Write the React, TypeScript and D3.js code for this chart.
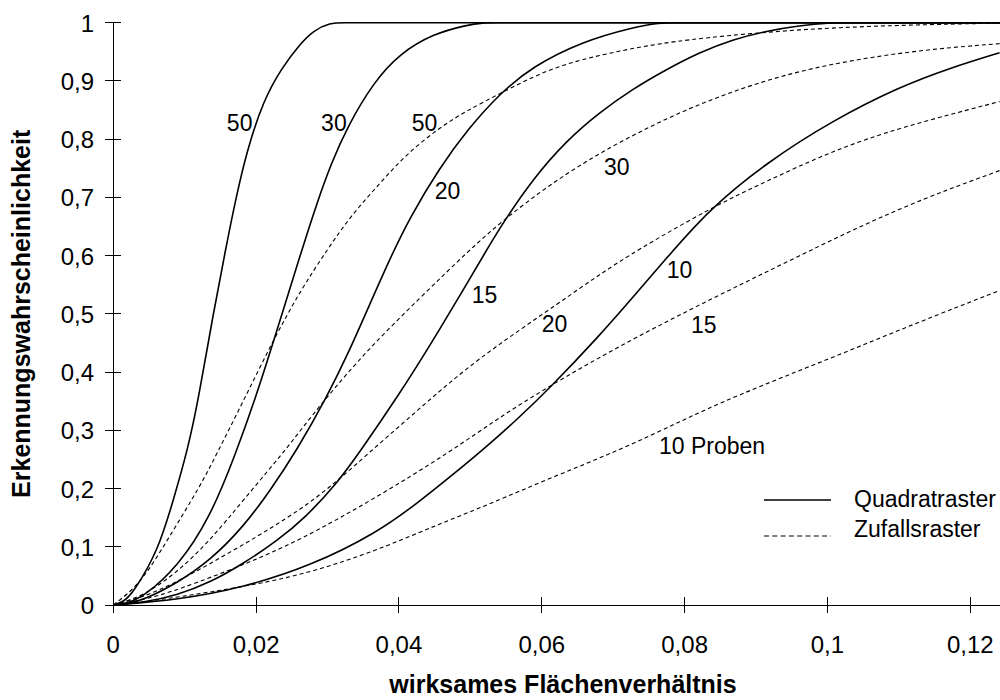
import React from 'react';
import * as d3 from 'd3';

// ---------- axis ticks ----------
const xTickValues = [0, 0.02, 0.04, 0.06, 0.08, 0.1, 0.12];
const xTickLabels = ['0', '0,02', '0,04', '0,06', '0,08', '0,1', '0,12'];
const yTickValues = [0, 0.1, 0.2, 0.3, 0.4, 0.5, 0.6, 0.7, 0.8, 0.9, 1];
const yTickLabels = ['0', '0,1', '0,2', '0,3', '0,4', '0,5', '0,6', '0,7', '0,8', '0,9', '1'];

// ---------- Quadratraster (solid) : [wirksames Flächenverhältnis, Erkennungswahrscheinlichkeit] ----------
const quad50: [number, number][] = [
  [0, 0], [0.0014, 0.005], [0.0028, 0.021], [0.0063, 0.094], [0.0084, 0.18], [0.0104, 0.266],
  [0.0119, 0.352], [0.014, 0.501], [0.0157, 0.609], [0.0171, 0.695], [0.0187, 0.78], [0.021, 0.866],
  [0.0236, 0.923], [0.0262, 0.964], [0.028, 0.986], [0.0303, 1.0], [0.0325, 1.0], [0.035, 1.0],
  [0.125, 1.0],
];
const quad30: [number, number][] = [
  [0, 0], [0.002, 0.003], [0.0042, 0.014], [0.009, 0.065], [0.0136, 0.151], [0.0172, 0.262],
  [0.0199, 0.355], [0.0224, 0.451], [0.0262, 0.602], [0.0285, 0.69], [0.0305, 0.758], [0.0328, 0.822],
  [0.0364, 0.897], [0.0401, 0.947], [0.0448, 0.981], [0.0495, 0.996], [0.0517, 1.0], [0.054, 1.0],
  [0.057, 1.0], [0.125, 1.0],
];
const quad20: [number, number][] = [
  [0, 0], [0.002, 0.002], [0.0042, 0.0086], [0.009, 0.038], [0.0136, 0.077], [0.0182, 0.134],
  [0.022, 0.197], [0.0257, 0.266], [0.0299, 0.357], [0.0331, 0.438], [0.0355, 0.505], [0.0387, 0.594],
  [0.0415, 0.665], [0.0457, 0.751], [0.0497, 0.818], [0.0541, 0.878], [0.0587, 0.925], [0.0657, 0.968],
  [0.0727, 0.992], [0.0765, 1.0], [0.079, 1.0], [0.082, 1.0], [0.125, 1.0],
];
const quad15: [number, number][] = [
  [0, 0], [0.0042, 0.004], [0.009, 0.017], [0.0136, 0.039], [0.0182, 0.071], [0.0229, 0.11],
  [0.0269, 0.15], [0.0313, 0.209], [0.0343, 0.259], [0.0401, 0.363], [0.0443, 0.445], [0.0491, 0.543],
  [0.052, 0.604], [0.0545, 0.655], [0.0587, 0.731], [0.0635, 0.798], [0.0681, 0.846], [0.0727, 0.886],
  [0.0775, 0.92], [0.0821, 0.949], [0.0867, 0.971], [0.0915, 0.986], [0.0961, 0.995], [0.1003, 1.0],
  [0.103, 1.0], [0.106, 1.0], [0.125, 1.0],
];
const quad10: [number, number][] = [
  [0, 0], [0.009, 0.0086], [0.0182, 0.03], [0.0276, 0.067], [0.0369, 0.1235], [0.0429, 0.178],
  [0.0471, 0.2196], [0.0517, 0.266], [0.0565, 0.318], [0.0614, 0.376], [0.0681, 0.463], [0.0723, 0.522],
  [0.0779, 0.602], [0.0835, 0.68], [0.0915, 0.76], [0.1007, 0.832], [0.1101, 0.89], [0.1171, 0.922],
  [0.1241, 0.9485],
];

// ---------- Zufallsraster (dashed) ----------
const rand50: [number, number][] = [
  [0, 0], [0.0038, 0.036], [0.0076, 0.112], [0.0122, 0.205], [0.0143, 0.255], [0.0182, 0.35],
  [0.0224, 0.455], [0.0262, 0.54], [0.0299, 0.609], [0.0331, 0.666], [0.0373, 0.724], [0.0411, 0.775],
  [0.0457, 0.82], [0.0495, 0.849], [0.0541, 0.878], [0.0611, 0.922], [0.0681, 0.9445], [0.0751, 0.9617],
  [0.0822, 0.9737], [0.0961, 0.989], [0.1102, 0.9959], [0.1241, 0.9993],
];
const rand30: [number, number][] = [
  [0, 0], [0.0042, 0.0154], [0.009, 0.0566], [0.0136, 0.1115], [0.0182, 0.18], [0.0241, 0.266],
  [0.0262, 0.3], [0.0299, 0.357], [0.0355, 0.437], [0.0429, 0.527], [0.0498, 0.609], [0.0545, 0.66],
  [0.0611, 0.722], [0.0681, 0.777], [0.0775, 0.837], [0.0867, 0.883], [0.0961, 0.918], [0.1055, 0.94],
  [0.1147, 0.955], [0.1241, 0.964],
];
const rand20: [number, number][] = [
  [0, 0], [0.0042, 0.0137], [0.009, 0.0395], [0.0182, 0.103], [0.0262, 0.163], [0.0313, 0.212],
  [0.0359, 0.2624], [0.0415, 0.3225], [0.0471, 0.3825], [0.0527, 0.437], [0.0629, 0.523], [0.0681, 0.5677],
  [0.0733, 0.609], [0.0835, 0.681], [0.0915, 0.728], [0.1007, 0.78], [0.1101, 0.82], [0.1241, 0.8645],
];
const rand15: [number, number][] = [
  [0, 0], [0.0042, 0.0086], [0.009, 0.0257], [0.0182, 0.0686], [0.0262, 0.1115], [0.0369, 0.185],
  [0.0471, 0.2624], [0.0541, 0.3225], [0.0608, 0.374], [0.0705, 0.4425], [0.0821, 0.516], [0.0961, 0.6],
  [0.1101, 0.683], [0.1241, 0.746],
];
const rand10: [number, number][] = [
  [0, 0], [0.0042, 0.005], [0.009, 0.0137], [0.0182, 0.031], [0.0276, 0.055], [0.0369, 0.0943],
  [0.0429, 0.125], [0.0471, 0.146], [0.0523, 0.1715], [0.0615, 0.2196], [0.0709, 0.266], [0.0797, 0.317],
  [0.0867, 0.357], [0.1007, 0.425], [0.1124, 0.484], [0.1241, 0.54],
];

const solidSeries = [quad50, quad30, quad20, quad15, quad10];
const dashedSeries = [rand50, rand30, rand20, rand15, rand10];

// curve labels: text, anchor point in data units
const labelTexts = ['50', '30', '50', '20', '15', '30', '20', '10', '15', '10 Proben'];
const labelX = [0.0159, 0.0291, 0.0418, 0.045, 0.0502, 0.0687, 0.06, 0.0775, 0.0809, 0.0764];
const labelY = [0.814, 0.814, 0.814, 0.697, 0.519, 0.738, 0.469, 0.5616, 0.467, 0.2593];

const legendNames = ['Quadratraster', 'Zufallsraster'];

const xTitle = 'wirksames Flächenverhältnis';
const yTitle = 'Erkennungswahrscheinlichkeit';

export default function App() {
  const font = "'Liberation Sans', Arial, sans-serif";
  const x = d3.scaleLinear().domain([0, 0.12]).range([113.3, 970.3]);
  const y = d3.scaleLinear().domain([0, 1]).range([605, 22.7]);
  const line = d3
    .line<[number, number]>()
    .x((d) => x(d[0]))
    .y((d) => y(d[1]))
    .curve(d3.curveBasis);

  const x0 = x(0);
  const y0 = y(0);

  return (
    <svg
      width={1000}
      height={700}
      style={{ position: 'fixed', left: 0, top: 0, background: '#fff' }}
      fontFamily={font}
    >
      <rect x={0} y={0} width={1000} height={700} fill="#fff" />
      <defs>
        <clipPath id="plot">
          <rect x={x0} y={0} width={1000 - x0} height={y0 + 2} />
        </clipPath>
      </defs>

      {/* curves */}
      <g clipPath="url(#plot)" fill="none">
        {dashedSeries.map((s, i) => (
          <path key={'d' + i} d={line(s) || ''} stroke="#000" strokeWidth={1.1} strokeDasharray="4,3" />
        ))}
        {solidSeries.map((s, i) => (
          <path key={'s' + i} d={line(s) || ''} stroke="#000" strokeWidth={1.6} />
        ))}
      </g>

      {/* axes */}
      <g stroke="#000" strokeWidth={1} shapeRendering="crispEdges">
        <line x1={x0} x2={x0} y1={y(1)} y2={y0} />
        <line x1={x0} x2={1000} y1={y0} y2={y0} />
        {yTickValues.map((v, i) => (
          <line key={'yt' + i} x1={x0 - 8} x2={x0 + 8} y1={y(v)} y2={y(v)} />
        ))}
        {xTickValues.map((v, i) => (
          <line key={'xt' + i} x1={x(v)} x2={x(v)} y1={y0 - 8} y2={y0 + 8} />
        ))}
      </g>

      {/* tick labels */}
      <g fontSize={24} fill="#000">
        {yTickValues.map((v, i) => (
          <text key={'yl' + i} x={94} y={y(v) + 9} textAnchor="end">
            {yTickLabels[i]}
          </text>
        ))}
        {xTickValues.map((v, i) => (
          <text key={'xl' + i} x={x(v)} y={653} textAnchor="middle">
            {xTickLabels[i]}
          </text>
        ))}
      </g>

      {/* axis titles */}
      <text x={563} y={693} fontSize={25} fontWeight="bold" textAnchor="middle">
        {xTitle}
      </text>
      <text
        transform={`translate(30, ${(y(1) + y0) / 2}) rotate(-90)`}
        fontSize={25}
        fontWeight="bold"
        textAnchor="middle"
      >
        {yTitle}
      </text>

      {/* curve labels */}
      <g fontSize={23} fill="#000">
        {labelTexts.map((t, i) => (
          <text key={'cl' + i} x={x(labelX[i])} y={y(labelY[i])}>
            {t}
          </text>
        ))}
      </g>

      {/* legend */}
      <g>
        <line x1={764} x2={831} y1={500} y2={500} stroke="#000" strokeWidth={1.6} />
        <line x1={764} x2={831} y1={536} y2={536} stroke="#000" strokeWidth={1.1} strokeDasharray="5,3.3" />
        <text x={854} y={507} fontSize={23}>{legendNames[0]}</text>
        <text x={854} y={537} fontSize={23}>{legendNames[1]}</text>
      </g>
    </svg>
  );
}
